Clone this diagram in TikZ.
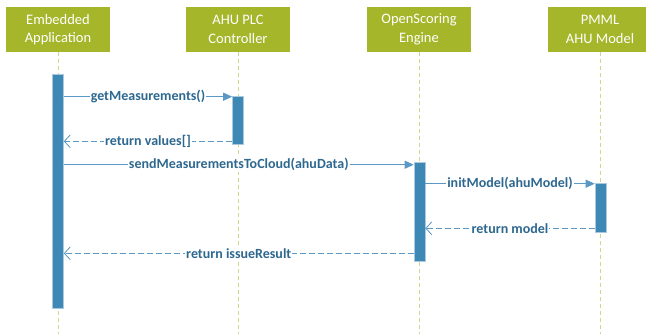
\documentclass[tikz,border=0pt]{standalone}
\usepackage{fontspec}
\setmainfont{Carlito}
\usetikzlibrary{arrows.meta}
\definecolor{hdgreen}{HTML}{A5B62B}
\definecolor{barblue}{HTML}{3E88B6}
\definecolor{msgblue}{HTML}{5A98C6}
\definecolor{txtblue}{HTML}{2D6890}
\definecolor{lifegreen}{HTML}{CBD98C}

\begin{document}
\begin{tikzpicture}[x=1pt,y=-1pt,
  head/.style={fill=hdgreen,text=white,minimum width=104pt,minimum height=45pt,
    align=center,inner sep=0pt,font=\fontsize{14.5}{18.5}\selectfont},
  life/.style={lifegreen,line width=1pt,dash pattern=on 4pt off 3pt},
  bar/.style={fill=barblue,draw=barblue!45,line width=0.6pt,minimum width=11pt,inner sep=0pt},
  call/.style={msgblue,line width=1pt,-{Triangle[length=9pt,width=8pt]}},
  reply/.style={msgblue,line width=0.8pt,dash pattern=on 6pt off 3pt,
    -{Straight Barb[length=6pt,width=13pt]}},
  msg/.style={midway,fill=white,text=txtblue,inner sep=1pt,
    font=\bfseries\fontsize{14}{16}\selectfont}]
\clip (0,0) rectangle (646,334);
\fill[white] (0,0) rectangle (646,334);
% heads
\node[head] (emb) at (58,29.5) {Embedded\\Application};
\node[head] (plc) at (238,29.5) {AHU PLC\\Controller};
\node[head] (os) at (419,29.5) {OpenScoring\\Engine};
\node[head] (pmml) at (600,29.5) {PMML\\AHU Model};
% lifelines
\coordinate (embEnd) at (58,334);
\coordinate (plcEnd) at (238,334);
\coordinate (osEnd) at (419,334);
\coordinate (pmmlEnd) at (600,334);
\draw[life] (emb) -- (embEnd);
\draw[life] (plc) -- (plcEnd);
\draw[life] (os) -- (osEnd);
\draw[life] (pmml) -- (pmmlEnd);
% activations
\node[bar,minimum height=234pt] (embBar) at (58,191) {};
\node[bar,minimum height=48pt] (plcBar) at (238,120) {};
\node[bar,minimum height=99pt] (osBar) at (419.5,211.5) {};
\node[bar,minimum height=49pt] (pmmlBar) at (600.5,207.5) {};
% messages
\draw[call] ([yshift=-1pt]embBar.east |- plcBar.north) -- ([yshift=-1pt]plcBar.north west)
  node[msg] {getMeasurements()};
\draw[reply] ([yshift=3pt]plcBar.south west) -- ([yshift=3pt]embBar.east |- plcBar.south)
  node[msg] {return values[]};
\draw[call] ([yshift=-3pt]embBar.east |- osBar.north) -- ([yshift=-3pt]osBar.north west)
  node[msg] {sendMeasurementsToCloud(ahuData)};
\draw[call] ([yshift=-1pt]osBar.east |- pmmlBar.north) -- ([yshift=-1pt]pmmlBar.north west)
  node[msg] {initModel(ahuModel)};
\draw[reply] ([yshift=4pt]pmmlBar.south west) -- ([yshift=4pt]osBar.east |- pmmlBar.south)
  node[msg] {return model};
\draw[reply] ([yshift=8pt]osBar.south west) -- ([yshift=8pt]embBar.east |- osBar.south)
  node[msg] {return issueResult};
\end{tikzpicture}
\end{document}
